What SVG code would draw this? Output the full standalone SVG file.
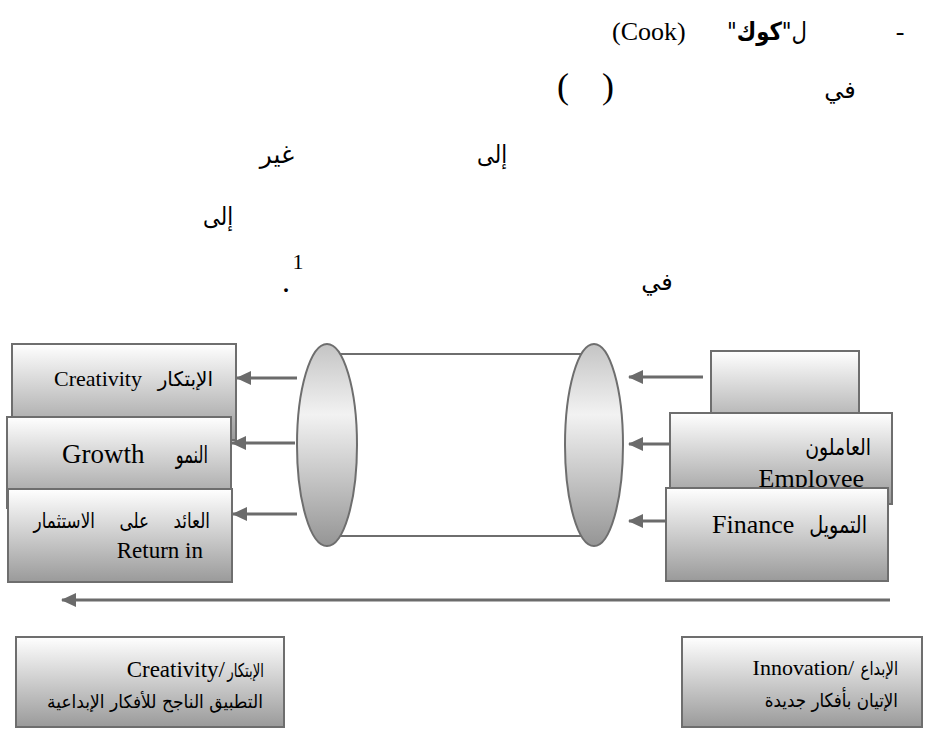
<svg xmlns="http://www.w3.org/2000/svg" width="939" height="731" viewBox="0 0 939 731">
<defs>
<linearGradient id="boxg" x1="0" y1="0" x2="0" y2="1">
<stop offset="0" stop-color="#ffffff"/>
<stop offset="1" stop-color="#9a9a9a"/>
</linearGradient>
<linearGradient id="ellg" x1="0" y1="0" x2="0" y2="1">
<stop offset="0" stop-color="#c4c4c4"/>
<stop offset="0.35" stop-color="#f2f2f2"/>
<stop offset="1" stop-color="#959595"/>
</linearGradient>
<marker id="ah" markerUnits="userSpaceOnUse" markerWidth="15" markerHeight="14" refX="14" refY="7" orient="auto">
<path d="M0,0 L15,7 L0,14 z" fill="#6b6b6b"/>
</marker>
</defs>
<style>
.t{font-family:"Liberation Serif","DejaVu Sans",serif;fill:#000}
.ar-t{font-family:"DejaVu Sans","Liberation Serif",sans-serif;fill:#000}
.box{fill:url(#boxg);stroke:#6e6e6e;stroke-width:2}
.ell{fill:url(#ellg);stroke:#6e6e6e;stroke-width:2}
.cl{stroke:#6e6e6e;stroke-width:2;fill:none}
.ar{stroke:#6b6b6b;stroke-width:3;fill:none;marker-end:url(#ah)}
</style>
<rect width="939" height="731" fill="#ffffff"/>

<g id="heading">
<text class="t" x="900" y="40" font-size="26" text-anchor="middle">-</text>
<text class="ar-t" transform="translate(807 40) scale(0.85 1)" x="0" y="0" font-size="25" direction="rtl" text-anchor="start">ل"<tspan font-weight="bold">كوك</tspan>"</text>
<text class="t" x="612" y="40" font-size="26">(Cook)</text>
<text class="t" x="563" y="98" font-size="36" text-anchor="middle">(</text>
<text class="t" x="608" y="98" font-size="36" text-anchor="middle">)</text>
<text class="ar-t" x="840" y="98" font-size="24" text-anchor="middle">في</text>
<text class="ar-t" x="277" y="163" font-size="25" text-anchor="middle">غير</text>
<text class="ar-t" transform="translate(492 163) scale(0.85 1)" x="0" y="0" font-size="25" text-anchor="middle">إلى</text>
<text class="ar-t" transform="translate(218 225) scale(0.85 1)" x="0" y="0" font-size="25" text-anchor="middle">إلى</text>
<text class="t" x="298" y="269" font-size="22" text-anchor="middle">1</text>
<text class="t" x="286" y="292" font-size="32" text-anchor="middle">.</text>
<text class="ar-t" x="657" y="290" font-size="24" text-anchor="middle">في</text>
</g>

<g id="cylinder">
<line class="cl" x1="327" y1="354" x2="594" y2="354"/>
<line class="cl" x1="327" y1="536" x2="594" y2="536"/>
<ellipse class="ell" cx="327" cy="445" rx="30" ry="101"/>
<ellipse class="ell" cx="594" cy="445" rx="29" ry="101"/>
</g>

<g id="node-creativity">
<rect class="box" x="12" y="344" width="224" height="96"/>
<text class="t" x="54" y="386" font-size="22">Creativity</text>
<text class="ar-t" x="213" y="386" font-size="20" direction="rtl" text-anchor="start">الإبتكار</text>
</g>
<g id="node-growth">
<rect class="box" x="7" y="417" width="224" height="91"/>
<text class="t" x="62" y="463" font-size="27">Growth</text>
<text class="ar-t" transform="translate(208 463) scale(0.68 1)" x="0" y="0" font-size="24" direction="rtl" text-anchor="start">النمو</text>
</g>
<g id="node-return">
<rect class="box" x="8" y="489" width="224" height="93"/>
<text class="ar-t" transform="translate(210 528) scale(0.8 1)" x="0" y="0" font-size="21" direction="rtl" text-anchor="start" word-spacing="24">العائد على الاستثمار</text>
<text class="t" x="203" y="558" font-size="23" text-anchor="end">Return in</text>
</g>

<g id="node-top-right">
<rect class="box" x="711" y="351" width="148" height="90"/>
</g>
<g id="node-employee">
<rect class="box" x="670" y="413" width="222" height="91"/>
<text class="ar-t" transform="translate(871 455) scale(0.82 1)" x="0" y="0" font-size="23" direction="rtl" text-anchor="start">العاملون</text>
<text class="t" x="864" y="487" font-size="26" text-anchor="end">Employee</text>
</g>
<g id="node-finance">
<rect class="box" x="666" y="488" width="222" height="93"/>
<text class="t" x="712" y="533" font-size="26">Finance</text>
<text class="ar-t" transform="translate(867 533) scale(0.8 1)" x="0" y="0" font-size="24" direction="rtl" text-anchor="start">التمويل</text>
</g>

<g id="node-creativity-def">
<rect class="box" x="16" y="637" width="268" height="90"/>
<text class="t" x="225" y="677" font-size="23" text-anchor="end">Creativity/</text>
<text class="ar-t" transform="translate(264 677) scale(0.7 1)" x="0" y="0" font-size="19" direction="rtl" text-anchor="start">الإبتكار</text>
<text class="ar-t" transform="translate(263 708) scale(0.95 1)" x="0" y="0" font-size="18" direction="rtl" text-anchor="start">التطبيق الناجح للأفكار الإبداعية</text>
</g>
<g id="node-innovation-def">
<rect class="box" x="682" y="637" width="240" height="90"/>
<text class="t" x="854" y="675" font-size="22" text-anchor="end">Innovation/</text>
<text class="ar-t" transform="translate(898 675) scale(0.78 1)" x="0" y="0" font-size="19" direction="rtl" text-anchor="start">الإبداع</text>
<text class="ar-t" transform="translate(898 707) scale(0.88 1)" x="0" y="0" font-size="19" direction="rtl" text-anchor="start">الإتيان بأفكار جديدة</text>
</g>

<g id="connectors">
<line class="ar" x1="297" y1="378" x2="237" y2="378"/>
<line class="ar" x1="295" y1="443" x2="232" y2="443"/>
<line class="ar" x1="297" y1="514" x2="233" y2="514"/>
<line class="ar" x1="703" y1="377" x2="629" y2="377"/>
<line class="ar" x1="670" y1="444" x2="629" y2="444"/>
<line class="ar" x1="666" y1="521" x2="629" y2="521"/>
<line class="ar" x1="890" y1="600" x2="62" y2="600"/>
</g>
</svg>
